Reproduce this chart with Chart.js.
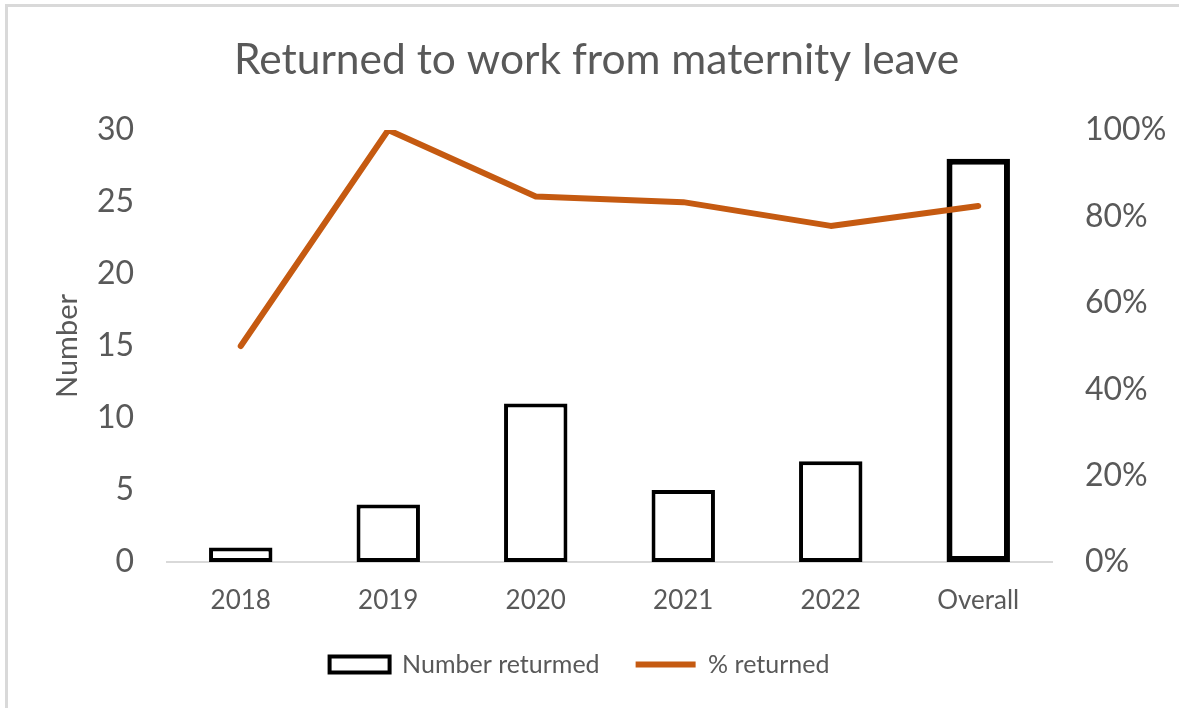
<!DOCTYPE html>
<html>
<head>
<meta charset="utf-8">
<title>Returned to work from maternity leave</title>
<script src="https://cdn.jsdelivr.net/npm/chart.js@4/dist/chart.umd.min.js"></script>
<style>
    html, body { margin: 0; padding: 0; background: #fff; overflow: hidden; }
    #wrap { position: relative; width: 1179px; height: 708px; }
    #frame {
        position: absolute; left: 5px; top: 4px; right: 0; bottom: 0;
        border-top: 3px solid #d9d9d9; border-left: 3px solid #d9d9d9;
    }
    canvas { position: absolute; left: 0; top: 0; }
</style>
</head>
<body>
<div id="wrap">
    <div id="frame"></div>
    <canvas id="chart" width="1179" height="708"></canvas>
</div>
<script>
// Returned to work from maternity leave

// ============================================================
// DATA
// ============================================================
const years = ['2018', '2019', '2020', '2021', '2022', 'Overall'];
const numberReturned = [1, 4, 11, 5, 7, 28];
const percentReturned = [50, 100, 84.6, 83.3, 77.8, 82.4];
const barBorders = [4, 4, 4, 4, 4, 6];

const leftTicks = { min: 0, max: 30, step: 5 };
const rightTicks = { min: 0, max: 100, step: 20 };

const colors = {
    text: '#595959',
    axis: '#d9d9d9',
    bar: '#000000',
    line: '#c55a11'
};

const FONT = 'Lato, "Open Sans", sans-serif';

// legend in the original sits a bit left of centre
const legendShift = -17;
const shiftLegend = {
    id: 'shiftLegend',
    afterLayout(chart) {
        chart.legend.left += legendShift;
        chart.legend.right += legendShift;
    }
};

// ============================================================
// CHART
// ============================================================
new Chart(document.getElementById('chart'), {
    type: 'bar',
    data: {
        labels: years,
        datasets: [
            {
                type: 'line',
                label: '% returned',
                data: percentReturned,
                yAxisID: 'y1',
                borderColor: colors.line,
                backgroundColor: colors.line,
                borderWidth: 6,
                borderCapStyle: 'round',
                borderJoinStyle: 'round',
                pointRadius: 0,
                pointStyle: 'line',
                tension: 0,
                order: 0
            },
            {
                label: 'Number returmed',
                data: numberReturned,
                yAxisID: 'y',
                backgroundColor: '#ffffff',
                borderColor: colors.bar,
                borderWidth: barBorders,
                borderSkipped: false,
                pointStyle: 'rect',
                categoryPercentage: 1,
                barPercentage: 0.43,
                order: 1
            }
        ]
    },
    plugins: [shiftLegend],
    options: {
        responsive: false,
        animation: false,
        layout: { padding: { left: 14, right: 0, top: 0, bottom: 21 } },
        plugins: {
            title: {
                display: true,
                text: 'Returned to work from maternity leave',
                color: colors.text,
                font: { family: FONT, size: 42.5, weight: 'normal' },
                padding: { top: 35, bottom: 44 }
            },
            legend: {
                position: 'bottom',
                reverse: true,
                labels: {
                    color: colors.text,
                    font: { family: FONT, size: 25 },
                    usePointStyle: true,
                    pointStyleWidth: 60,
                    boxHeight: 16,
                    padding: 36
                }
            },
            tooltip: { enabled: false }
        },
        scales: {
            x: {
                grid: { display: false, drawTicks: false },
                border: { display: true, color: colors.axis, width: 2 },
                ticks: { color: colors.text, font: { family: FONT, size: 26 }, padding: 23 },
                afterFit: s => { s.height = 54; }
            },
            y: {
                position: 'left',
                min: leftTicks.min,
                max: leftTicks.max,
                grid: { display: false, drawTicks: false },
                border: { display: false },
                ticks: { stepSize: leftTicks.step, color: colors.text, font: { family: FONT, size: 32 }, padding: 33 },
                title: {
                    display: true,
                    text: 'Number',
                    color: colors.text,
                    font: { family: FONT, size: 29 },
                    padding: { top: 36, bottom: 0 }
                },
                afterFit: s => { s.width = 153; }
            },
            y1: {
                position: 'right',
                min: rightTicks.min,
                max: rightTicks.max,
                grid: { display: false, drawTicks: false },
                border: { display: false },
                ticks: {
                    stepSize: rightTicks.step,
                    color: colors.text,
                    font: { family: FONT, size: 32 },
                    padding: 33,
                    callback: v => v + '%'
                },
                afterFit: s => { s.width = 127; }
            }
        }
    }
});
</script>
</body>
</html>
